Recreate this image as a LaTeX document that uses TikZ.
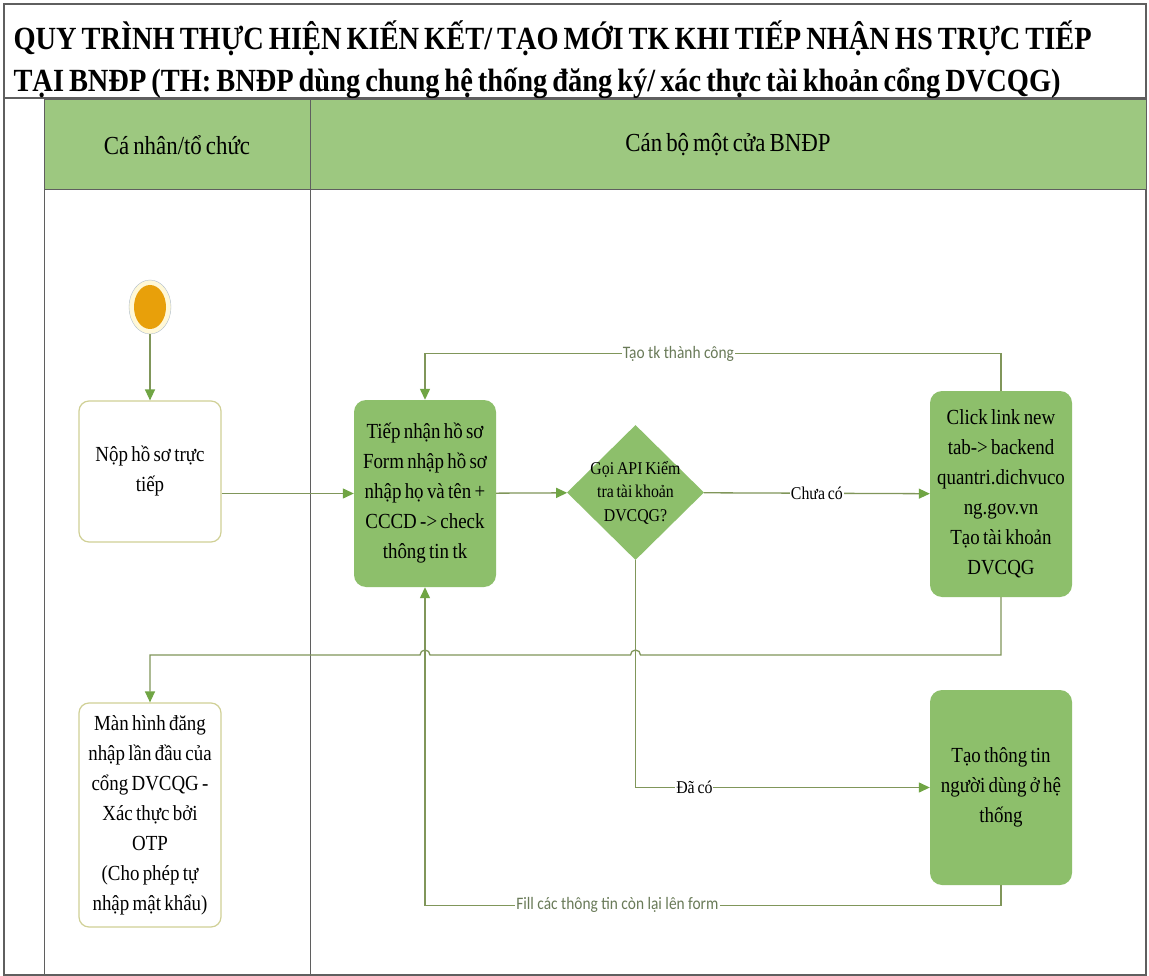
\documentclass[tikz,border=0pt]{standalone}
\usepackage{fontspec}
\setmainfont{Liberation Serif}[FakeStretch=0.88, WordSpace=0.7]
\newfontfamily\notefont{Carlito}[FakeStretch=0.88]
\usetikzlibrary{positioning}
\usetikzlibrary{shapes.geometric}
\usetikzlibrary{arrows.meta}

\definecolor{headgreen}{RGB}{157,200,128}
\definecolor{boxgreen}{RGB}{141,191,107}
\definecolor{flowline}{RGB}{128,150,90}
\definecolor{tipgreen}{RGB}{112,165,68}
\definecolor{paleedge}{RGB}{208,208,150}
\definecolor{notegray}{RGB}{105,122,88}
\definecolor{startorange}{RGB}{232,160,10}
\definecolor{startring}{RGB}{255,248,215}
\definecolor{framegray}{RGB}{95,95,95}

\tikzset{
    flow/.style={draw=flowline, line width=1.3pt,
        -{Triangle[length=11pt,width=10pt,color=tipgreen,fill=tipgreen]}},
    whitebox/.style={draw=paleedge, line width=1.2pt, fill=white,
        rounded corners=10pt, minimum width=142pt, text width=140pt,
        inner xsep=1pt, align=flush center, font=\fontsize{21.5}{30}\selectfont},
    greenbox/.style={fill=boxgreen, rounded corners=12pt,
        minimum width=142pt, text width=140pt, inner xsep=1pt,
        align=flush center, font=\fontsize{21.5}{30}\selectfont},
    decision/.style={diamond, fill=boxgreen, minimum width=137pt,
        minimum height=135pt, inner sep=-9pt, align=flush center,
        font=\fontsize{18}{23.5}\selectfont},
    flowlbl/.style={fill=white, inner sep=1pt, font=\fontsize{18}{20}\selectfont},
    notelbl/.style={fill=white, inner sep=1pt, text=notegray,
        font=\notefont\fontsize{17.5}{20}\selectfont},
    lanehead/.style={font=\fontsize{26}{30}\selectfont}
}

\begin{document}
\begin{tikzpicture}[x=1pt, y=-1pt]

    \useasboundingbox (0,0) rectangle (1149,976);
    \fill[white] (0,0) rectangle (1149,976);

    % Frame and title
    \draw[framegray, line width=1.2pt] (4,4) rectangle (1146,975);
    \draw[framegray, line width=1.2pt] (4,98) -- (1146,98);
    \node[anchor=west, align=left, font=\bfseries\fontsize{32.3}{42}\selectfont] (title) at (10,60)
        {QUY TRÌNH THỰC HIỆN KIẾN KẾT/ TẠO MỚI TK KHI TIẾP NHẬN HS TRỰC TIẾP\\
         TẠI BNĐP (TH: BNĐP dùng chung hệ thống đăng ký/ xác thực tài khoản cổng DVCQG)};

    % Lanes
    \fill[headgreen] (44,100) rectangle (1146,190);
    \draw[framegray, line width=1pt] (44,100) rectangle (1146,975);
    \draw[framegray, line width=1pt] (44,190) -- (1146,190);
    \draw[framegray, line width=1pt] (310,100) -- (310,975);
    \node[lanehead] (lanea) at (177,145) {Cá nhân/tổ chức};
    \node[lanehead] (laneb) at (728,145) {Cán bộ một cửa BNĐP};

    % Start
    \node[ellipse, draw={rgb,255:red,175;green,190;blue,205}, fill=startring,
        minimum width=42pt, minimum height=54pt, inner sep=0pt] (start) at (150,307) {};
    \fill[startorange] (start.center) ellipse [x radius=16pt, y radius=22pt];

    % Steps
    \node[whitebox, minimum height=141pt] (submit) at (150,471.5) {Nộp hồ sơ trực\\tiếp};
    \node[greenbox, minimum height=187pt] (intake) at (425,493.5)
        {Tiếp nhận hồ sơ\\Form nhập hồ sơ\\nhập họ và tên +\\CCCD -> check\\thông tin tk};
    \node[decision] (check) at (635.5,492.5) {Gọi API Kiểm\\tra tài khoản\\DVCQG?};
    \node[greenbox, minimum height=206pt] (newacc) at (1001,494)
        {Click link new\\tab-> backend\\quantri.dichvuco\\ng.gov.vn\\Tạo tài khoản\\DVCQG};
    \node[greenbox, minimum height=195pt] (userinfo) at (1001,787.5)
        {Tạo thông tin\\người dùng ở hệ\\thống};
    \node[whitebox, minimum height=224pt] (loginscr) at (150,815)
        {Màn hình đăng\\nhập lần đầu của\\cổng DVCQG -\\Xác thực bởi\\OTP\\(Cho phép tự\\nhập mật khẩu)};

    % Flow
    \draw[flow] (start) -- (submit);
    \draw[flow] (submit.east |- intake.west) -- (intake.west);
    \draw[flow] (intake) -- (check);
    \draw[flow] (check) -- node[flowlbl, pos=0.5]{Chưa có} (newacc);
    \draw[flow] (newacc.north) -- ++(0,-37) -| node[notelbl, pos=0.28]{Tạo tk thành công} (intake.north);
    \draw[flow] (check.south) |- node[flowlbl, pos=0.6]{Đã có} (userinfo.west);
    \draw[flow] (userinfo.south) -- ++(0,20) -| node[notelbl, pos=0.333]{Fill các thông tin còn lại lên form} (intake.south);

    % Back to login screen, hopping over the two vertical lines
    \coordinate (hopa) at (check.south |- 0,655);
    \coordinate (hopb) at (intake.south |- 0,655);
    \draw[flow] (newacc.south) -- (newacc.south |- hopa)
        -- ([xshift=5pt]hopa) arc[start angle=0, end angle=180, radius=5pt]
        -- ([xshift=5pt]hopb) arc[start angle=0, end angle=180, radius=5pt]
        -- (loginscr.north |- hopa) -- (loginscr.north);

\end{tikzpicture}
\end{document}
